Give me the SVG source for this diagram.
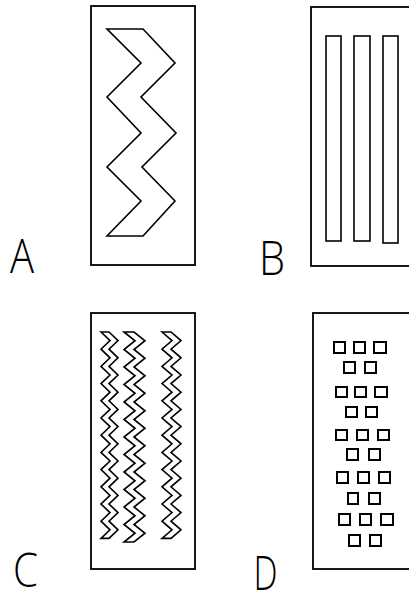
<svg xmlns="http://www.w3.org/2000/svg" width="409" height="594" viewBox="0 0 409 594">
<style>
.frame{fill:none;stroke:#000;stroke-width:1.8}
.ln{fill:none;stroke:#000;stroke-width:1.6;stroke-linejoin:miter}
.sq{fill:none;stroke:#000;stroke-width:2}
.lbl{font-family:"Open Sans","Liberation Sans",sans-serif;font-weight:300;font-size:48px;fill:#000;text-anchor:middle}
</style>
<rect width="409" height="594" fill="#fff"/>
<g id="panel-a">
<rect class="frame" x="91" y="6" width="104" height="259"/>
<polygon class="ln" points="107,29 143,29 175,63 141,97 176,133 142,167 175,201 143,236 107,236 141,201 107,167 141,133 107,97 141,63"/>
<text class="lbl" x="22" y="273" textLength="24" lengthAdjust="spacingAndGlyphs">A</text>
</g>
<g id="panel-b">
<rect class="frame" x="311" y="7" width="120" height="259"/>
<rect class="ln" x="326" y="36" width="15" height="205"/>
<rect class="ln" x="354" y="36" width="16" height="205"/>
<rect class="ln" x="383" y="36" width="15" height="207"/>
<text class="lbl" x="272" y="275" textLength="26" lengthAdjust="spacingAndGlyphs">B</text>
</g>
<g id="panel-c">
<rect class="frame" x="91" y="313" width="104" height="256"/>
<path class="ln" d="M101,332 l9,8.6 -9,8.6 9,8.6 -9,8.6 9,8.6 -9,8.6 9,8.6 -9,8.6 9,8.6 -9,8.6 9,8.6 -9,8.6 9,8.6 -9,8.6 9,8.6 -9,8.6 9,8.6 -9,8.6 9,8.6 -9,8.6 9,8.6 -9,8.6 9,8.6 -9,8.6 h8 l9,-8.6 -9,-8.6 9,-8.6 -9,-8.6 9,-8.6 -9,-8.6 9,-8.6 -9,-8.6 9,-8.6 -9,-8.6 9,-8.6 -9,-8.6 9,-8.6 -9,-8.6 9,-8.6 -9,-8.6 9,-8.6 -9,-8.6 9,-8.6 -9,-8.6 9,-8.6 -9,-8.6 9,-8.6 -9,-8.6 z"/>
<path class="ln" d="M124,332 l11,8.75 -11,8.75 11,8.75 -11,8.75 11,8.75 -11,8.75 11,8.75 -11,8.75 11,8.75 -11,8.75 11,8.75 -11,8.75 11,8.75 -11,8.75 11,8.75 -11,8.75 11,8.75 -11,8.75 11,8.75 -11,8.75 11,8.75 -11,8.75 11,8.75 -11,8.75 h10 l11,-8.75 -11,-8.75 11,-8.75 -11,-8.75 11,-8.75 -11,-8.75 11,-8.75 -11,-8.75 11,-8.75 -11,-8.75 11,-8.75 -11,-8.75 11,-8.75 -11,-8.75 11,-8.75 -11,-8.75 11,-8.75 -11,-8.75 11,-8.75 -11,-8.75 11,-8.75 -11,-8.75 11,-8.75 -11,-8.75 z"/>
<path class="ln" d="M162,332 l10,8.6 -10,8.6 10,8.6 -10,8.6 10,8.6 -10,8.6 10,8.6 -10,8.6 10,8.6 -10,8.6 10,8.6 -10,8.6 10,8.6 -10,8.6 10,8.6 -10,8.6 10,8.6 -10,8.6 10,8.6 -10,8.6 10,8.6 -10,8.6 10,8.6 -10,8.6 h9 l10,-8.6 -10,-8.6 10,-8.6 -10,-8.6 10,-8.6 -10,-8.6 10,-8.6 -10,-8.6 10,-8.6 -10,-8.6 10,-8.6 -10,-8.6 10,-8.6 -10,-8.6 10,-8.6 -10,-8.6 10,-8.6 -10,-8.6 10,-8.6 -10,-8.6 10,-8.6 -10,-8.6 10,-8.6 -10,-8.6 z"/>
<text class="lbl" x="25.5" y="587" textLength="25" lengthAdjust="spacingAndGlyphs">C</text>
</g>
<g id="panel-d">
<rect class="frame" x="313" y="313" width="120" height="256"/>
<rect class="sq" x="334" y="342" width="11" height="11"/>
<rect class="sq" x="354" y="342" width="11" height="11"/>
<rect class="sq" x="374" y="342" width="12" height="11"/>
<rect class="sq" x="344" y="362" width="11" height="11"/>
<rect class="sq" x="365" y="362" width="11" height="11"/>
<rect class="sq" x="336" y="387" width="11" height="10"/>
<rect class="sq" x="355" y="387" width="11" height="10"/>
<rect class="sq" x="375" y="387" width="12" height="10"/>
<rect class="sq" x="346" y="407" width="11" height="10"/>
<rect class="sq" x="366" y="407" width="11" height="10"/>
<rect class="sq" x="336" y="430" width="11" height="10"/>
<rect class="sq" x="357" y="430" width="11" height="10"/>
<rect class="sq" x="378" y="430" width="11" height="10"/>
<rect class="sq" x="347" y="449" width="11" height="11"/>
<rect class="sq" x="369" y="449" width="11" height="11"/>
<rect class="sq" x="337" y="472" width="11" height="11"/>
<rect class="sq" x="358" y="472" width="11" height="11"/>
<rect class="sq" x="379" y="472" width="11" height="11"/>
<rect class="sq" x="348" y="493" width="10" height="11"/>
<rect class="sq" x="369" y="493" width="11" height="11"/>
<rect class="sq" x="339" y="514" width="11" height="11"/>
<rect class="sq" x="360" y="514" width="11" height="11"/>
<rect class="sq" x="381" y="514" width="12" height="11"/>
<rect class="sq" x="349" y="535" width="11" height="11"/>
<rect class="sq" x="370" y="535" width="11" height="11"/>
<text class="lbl" x="265.5" y="590" textLength="24" lengthAdjust="spacingAndGlyphs">D</text>
</g>
<g id="connectors"/>
</svg>
